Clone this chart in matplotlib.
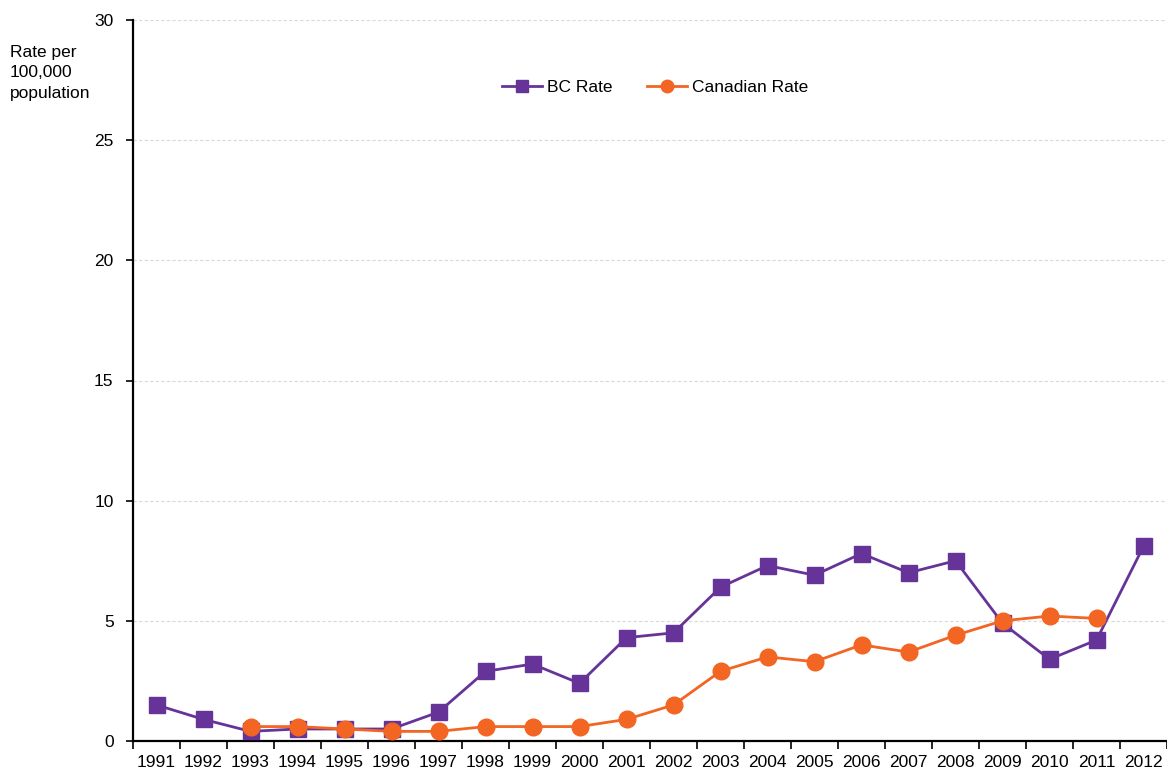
import numpy as np
import matplotlib
matplotlib.use('Agg')
from matplotlib import pyplot as plt

plt.rcParams['font.family'] = ['Liberation Sans', 'DejaVu Sans']

# %% Data
years = [str(y) for y in range(1991, 2013)]
bc_rate = [1.5, 0.9, 0.4, 0.5, 0.5, 0.5, 1.2, 2.9, 3.2, 2.4, 4.3,
           4.5, 6.4, 7.3, 6.9, 7.8, 7.0, 7.5, 4.9, 3.4, 4.2, 8.1]
canada_rate = [np.nan, np.nan, 0.6, 0.6, 0.5, 0.4, 0.4, 0.6, 0.6, 0.6, 0.9,
               1.5, 2.9, 3.5, 3.3, 4.0, 3.7, 4.4, 5.0, 5.2, 5.1, np.nan]

# %% Plot
fig = plt.figure(figsize=(11.67, 7.74), dpi=100)
ax = fig.add_axes([133 / 1167, 33 / 774, 1 - 133 / 1167, 721 / 774])

x = np.arange(len(years))
ax.plot(x, bc_rate, color='#663399', marker='s', markersize=12, lw=2.0,
        label='BC Rate', zorder=3)
ax.plot(x, canada_rate, color='#f26522', marker='o', markersize=12, lw=2.0,
        label='Canadian Rate', zorder=4)

ax.set_xlim(-0.5, len(years) - 0.5)
ax.set_ylim(0, 30)
ax.set_yticks(range(0, 31, 5))
ax.set_xticks(np.arange(-0.5, len(years), 1.0))
ax.set_xticklabels([])
ax.set_xticks(x, minor=True)
ax.set_xticklabels(years, minor=True)
ax.tick_params(axis='x', which='major', direction='out', length=6, width=1.2)
ax.tick_params(axis='x', which='minor', length=0, pad=10, labelsize=12.5)
ax.tick_params(axis='y', direction='out', length=5, width=1.2, labelsize=12.5, pad=9)

ax.grid(axis='y', color='#d9d9d9', linestyle=(0, (3, 2)), lw=0.8)
ax.set_axisbelow(True)
for side in ['top', 'right']:
    ax.spines[side].set_visible(False)
ax.spines['left'].set_linewidth(1.6)
ax.spines['bottom'].set_linewidth(1.6)

fig.text(10 / 1167, 1 - 45 / 774, 'Rate per\n100,000\npopulation',
         ha='left', va='top', fontsize=12.5, linespacing=1.45)

ax.legend(loc='center', bbox_to_anchor=(0.505, 0.907), ncol=2, frameon=False,
          fontsize=12.5, handlelength=2.3, columnspacing=2.0, handletextpad=0.3,
          markerscale=0.75)

fig.savefig('out.png', dpi=100)
